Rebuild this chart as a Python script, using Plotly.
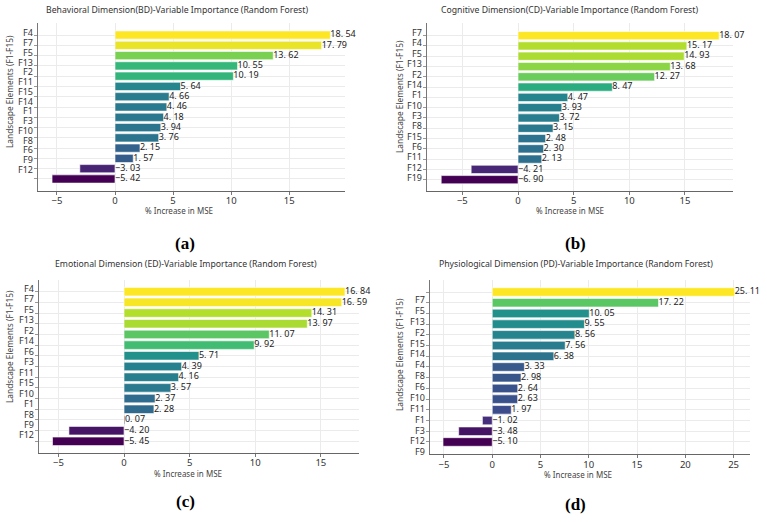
import plotly.graph_objects as go

# ---------------- data ----------------
a_labels = ["F4", "F7", "F5", "F13", "F2", "F11", "F15", "F14", "F1", "F3", "F10", "F8", "F6", "F9", "F12"]
a_values = [18.54, 17.79, 13.62, 10.55, 10.19, 5.64, 4.66, 4.46, 4.18, 3.94, 3.76, 2.15, 1.57, -3.03, -5.42]

b_labels = ["F7", "F4", "F5", "F13", "F2", "F14", "F1", "F10", "F3", "F8", "F15", "F6", "F11", "F12", "F19"]
b_values = [18.07, 15.17, 14.93, 13.68, 12.27, 8.47, 4.47, 3.93, 3.72, 3.15, 2.48, 2.30, 2.13, -4.21, -6.90]

c_labels = ["F4", "F7", "F5", "F13", "F2", "F14", "F6", "F3", "F11", "F15", "F10", "F1", "F8", "F9", "F12"]
c_values = [16.84, 16.59, 14.31, 13.97, 11.07, 9.92, 5.71, 4.39, 4.16, 3.57, 2.37, 2.28, 0.07, -4.20, -5.45]

d_labels = ["F7", "F5", "F13", "F2", "F15", "F14", "F4", "F8", "F6", "F10", "F11", "F1", "F3", "F12", "F9"]
d_values = [25.11, 17.22, 10.05, 9.55, 8.56, 7.56, 6.38, 3.33, 2.98, 2.64, 2.63, 1.97, -1.02, -3.48, -5.10]

titles = [
    "Behavioral Dimension(BD)-Variable Importance (Random Forest)",
    "Cognitive Dimension(CD)-Variable Importance (Random Forest)",
    "Emotional Dimension (ED)-Variable Importance (Random Forest)",
    "Physiological Dimension (PD)-Variable Importance (Random Forest)",
]
panel_letters = ["(a)", "(b)", "(c)", "(d)"]
x_title = "% Increase in MSE"
y_title = "Landscape Elements (F1-F15)"

# ---------------- layout helpers (pixel based) ----------------
W, H = 767, 522
FONT = "Noto Sans"


def px(x):
    return x / W


def py(y):
    return 1 - y / H


panels = [
    dict(labels=a_labels, values=a_values, box=(38, 345, 23, 191), xr=[-6.63, 19.8], yr=[15.17, -1.17],
         lab_off=(-0.2, -0.95), title=(177, 10), xt=(179, 210), yt=(10, 92), letter=(185, 244)),
    dict(labels=b_labels, values=b_values, box=(427.3, 733.3, 23, 191), xr=[-8.15, 19.34], yr=[15.1, -1.23],
         lab_off=(-0.3, -0.2), title=(569, 10), xt=(570, 210), yt=(399, 97), letter=(575, 244)),
    dict(labels=c_labels, values=c_values, box=(39, 359.3, 280, 453), xr=[-6.48, 17.93], yr=[15.09, -1.09],
         lab_off=(-0.3, -0.6), title=(186, 264), xt=(188, 473), yt=(9, 347), letter=(185, 501)),
    dict(labels=d_labels, values=d_values, box=(429.7, 750, 280, 454.3), xr=[-6.48, 26.7], yr=[15.15, -1.12],
         lab_off=(0.7, 0.92), title=(576, 264), xt=(578, 474), yt=(399, 355), letter=(575, 504)),
]

fig = go.Figure()
annotations = []
layout_axes = {}


def fmt(v):
    s = f"{abs(v):.2f}".replace(".", ". ")
    return ("\u2212" + s) if v < 0 else s


for i, p in enumerate(panels, start=1):
    sfx = "" if i == 1 else str(i)
    xa, ya = "x" + sfx, "y" + sfx
    vals = p["values"]
    n = len(vals)
    idx = list(range(n))

    fig.add_trace(go.Bar(
        x=vals, y=idx, orientation="h", xaxis=xa, yaxis=ya, width=0.8,
        marker=dict(color=vals, colorscale="Viridis", cmin=min(vals), cmax=max(vals),
                    line=dict(color="white", width=0.6)),
        hoverinfo="skip", showlegend=False,
    ))
    fig.add_trace(go.Scatter(
        x=[max(v, 0) for v in vals], y=idx, mode="text", xaxis=xa, yaxis=ya,
        text=[fmt(v) for v in vals], textposition="middle right",
        textfont=dict(family=FONT, size=9, color="#222"),
        hoverinfo="skip", showlegend=False, cliponaxis=False,
    ))

    l, r, t, b = p["box"]
    layout_axes["xaxis" + sfx] = dict(
        domain=[px(l), px(r)], range=p["xr"], anchor=ya, tick0=0, dtick=5,
        showgrid=True, gridcolor="#ebebeb", gridwidth=1, zeroline=False,
        showline=True, linecolor="#666", linewidth=1, ticks="outside", ticklen=3, tickcolor="#777",
        ticklabelstandoff=-2,
        tickfont=dict(family=FONT, size=9.5, color="#333"), fixedrange=True,
    )
    layout_axes["yaxis" + sfx] = dict(
        domain=[py(b), py(t)], range=p["yr"], anchor=xa, tickmode="array", tickvals=idx,
        showticklabels=False, showgrid=True, gridcolor="#ebebeb", gridwidth=1, zeroline=False,
        showline=True, linecolor="#777", linewidth=1, ticks="outside", ticklen=3, tickcolor="#999",
        fixedrange=True,
    )

    # category labels (placed as in the reference, slightly misaligned with the bars)
    s0, s1 = p["lab_off"]
    for k, lab in enumerate(p["labels"]):
        pos = k + s0 + (s1 - s0) * k / (n - 1)
        annotations.append(dict(
            text=lab, x=px(l), xref="paper", y=pos, yref=ya, xanchor="right", yanchor="middle",
            xshift=-4, showarrow=False, borderpad=0,
            font=dict(family=FONT, size=9, color="#333"),
        ))

    tx, ty = p["title"]
    annotations.append(dict(text=titles[i - 1], x=px(tx), y=py(ty), xref="paper", yref="paper",
                            xanchor="center", yanchor="middle", showarrow=False,
                            font=dict(family=FONT, size=8.7, color="#333")))
    xx, xy = p["xt"]
    annotations.append(dict(text=x_title, x=px(xx), y=py(xy), xref="paper", yref="paper",
                            xanchor="center", yanchor="middle", showarrow=False, borderpad=0,
                            font=dict(family=FONT, size=8, color="#444")))
    yx, yy = p["yt"]
    annotations.append(dict(text=y_title, x=px(yx), y=py(yy), xref="paper", yref="paper",
                            xanchor="center", yanchor="middle", showarrow=False, textangle=-90,
                            font=dict(family=FONT, size=8.3, color="#444")))
    lx, ly = p["letter"]
    annotations.append(dict(text="<b>" + panel_letters[i - 1] + "</b>", x=px(lx), y=py(ly),
                            xref="paper", yref="paper", xanchor="center", yanchor="middle",
                            showarrow=False,
                            font=dict(family="Liberation Serif", size=17, color="#000")))

fig.update_layout(
    width=W, height=H, margin=dict(l=0, r=0, t=0, b=0),
    paper_bgcolor="white", plot_bgcolor="white",
    annotations=annotations, bargap=0.2, **layout_axes,
)

fig.write_html("out.html", config={"displayModeBar": False, "staticPlot": True})
